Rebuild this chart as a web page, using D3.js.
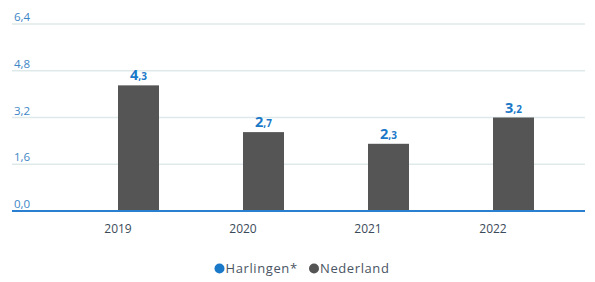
<!DOCTYPE html>
<html><head><meta charset="utf-8">
<script src="https://cdn.jsdelivr.net/npm/d3@7"></script>
<style>body{margin:0;background:#fff}svg{display:block}</style>
</head><body>
<script>
const years = ["2019","2020","2021","2022"];
const harlingen = [null, null, null, null];
const nederland = [4.3, 2.7, 2.3, 3.2];
const yTicks = [0, 1.6, 3.2, 4.8, 6.4];
const seriesNames = ["Harlingen*", "Nederland"];
const seriesColors = ["#1a78c8", "#555555"];

const W = 595, H = 282;
const svg = d3.select("body").append("svg").attr("width", W).attr("height", H);
const fontF = "'Open Sans', 'DejaVu Sans', sans-serif";

const y = d3.scaleLinear().domain([0, 6.4]).range([211, 24]);
const x0 = d3.scaleBand().domain(years).range([55.5, 555.5]).paddingInner(0.344).paddingOuter(0.172);
const x1 = d3.scaleBand().domain(seriesNames).range([0, x0.bandwidth()]);

// gridlines
svg.append("g").selectAll("line").data(yTicks.filter(d => d > 0)).join("line")
  .attr("x1", 12).attr("x2", 585)
  .attr("y1", d => y(d)).attr("y2", d => y(d))
  .attr("stroke", "#dfe9e9").attr("stroke-width", 1.5);

// y labels
const fmt = d => d.toFixed(1).replace(".", ",");
svg.append("g").selectAll("text").data(yTicks).join("text")
  .attr("x", 14).attr("y", d => y(d) - 3)
  .attr("font-family", fontF).attr("font-size", 11.5)
  .attr("fill", "#3d86c6").text(fmt);

// bars
const data = years.map((yr, i) => ({yr, vals: [harlingen[i], nederland[i]]}));
const groups = svg.append("g").selectAll("g").data(data).join("g")
  .attr("transform", d => `translate(${x0(d.yr)},0)`);
groups.selectAll("rect").data(d => d.vals.map((v, j) => ({v, s: seriesNames[j], c: seriesColors[j]})).filter(e => e.v != null))
  .join("rect")
  .attr("x", e => x1(e.s)).attr("width", x1.bandwidth())
  .attr("y", e => y(e.v)).attr("height", e => y(0) - y(e.v))
  .attr("fill", e => e.c);

// baseline
svg.append("line").attr("x1", 12).attr("x2", 585).attr("y1", y(0)).attr("y2", y(0))
  .attr("stroke", "#2a7fd0").attr("stroke-width", 2);

// value labels
const vl = svg.append("g").selectAll("text").data(nederland).join("text")
  .attr("x", (d, i) => x0(years[i]) + x1("Nederland") + x1.bandwidth() / 2)
  .attr("y", d => y(d) - 5)
  .attr("text-anchor", "middle")
  .attr("font-family", fontF).attr("font-weight", "bold")
  .attr("fill", "#1a78c8");
vl.append("tspan").attr("font-size", 14.5).text(d => Math.floor(d));
vl.append("tspan").attr("font-size", 10).text(d => "," + Math.round((d % 1) * 10));

// x labels
svg.append("g").selectAll("text").data(years).join("text")
  .attr("x", d => x0(d) + x0.bandwidth() / 2).attr("y", 233)
  .attr("text-anchor", "middle")
  .attr("font-family", fontF).attr("font-size", 12)
  .attr("fill", "#3b4a5a").text(d => d);

// legend
const legend = svg.append("g");
const lx = [219.5, 314];
seriesNames.forEach((n, i) => {
  legend.append("circle").attr("cx", lx[i]).attr("cy", 268.5).attr("r", 5).attr("fill", seriesColors[i]);
  legend.append("text").attr("x", lx[i] + 6).attr("y", 273)
    .attr("font-family", fontF).attr("font-size", 13).attr("letter-spacing", 0.6)
    .attr("fill", "#4a5563").text(n);
});
</script>
</body></html>
